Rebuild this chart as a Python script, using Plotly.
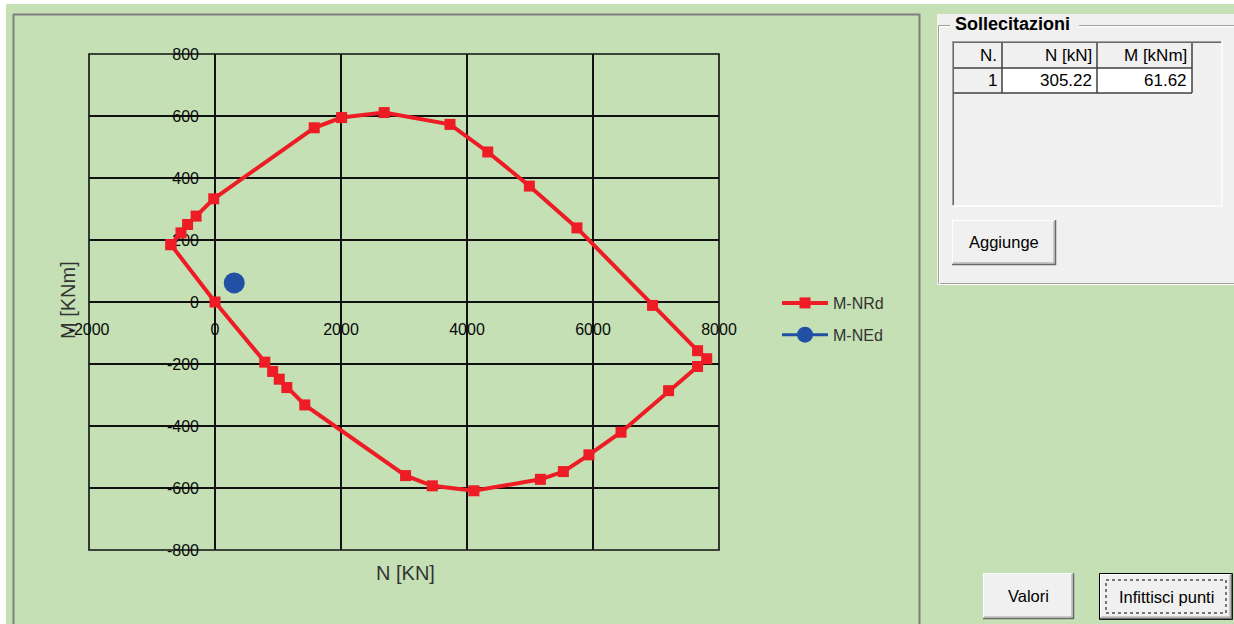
import plotly.graph_objects as go

# ---------------- data ----------------
N_Rd = [-700, -540, -435, -300, -20, 1575, 2010, 2685, 3730, 4330, 4990, 5745, 6945,
        7660, 7805, 7660, 7200, 6445, 5935, 5530, 5165, 4110, 3450, 3025, 1425, 1140,
        1020, 915, 790, 0, -700]
M_Rd = [185, 223, 250, 277, 333, 562, 595, 611, 573, 484, 374, 239, -11,
        -157, -183, -208, -286, -420, -493, -547, -572, -609, -593, -560, -332, -276,
        -249, -224, -194, 0, 185]
N_Ed = [305.22]
M_Ed = [61.62]
x_ticks = [-2000, 0, 2000, 4000, 6000, 8000]
y_ticks = [-800, -600, -400, -200, 0, 200, 400, 600, 800]

table_header = ["N.", "N [kN]", "M [kNm]"]
table_row = ["1", "305.22", "61.62"]

# ---------------- geometry helpers ----------------
W, H = 1234, 624
L, R, T, B = 89, 515, 54, 74
PW, PH = W - L - R, H - T - B


def fx(x):
    return (x - L) / PW


def fy(y):
    return (H - B - y) / PH


GREEN = "#C4E0B4"
PANEL = "#F0F0F0"
FONT = "Liberation Sans"

shapes = []
annotations = []


def rect(x0, y0, x1, y1, fill=None, line=None, lw=1, dash=None, layer="above"):
    ln = dict(width=lw if line else 0, color=line or "rgba(0,0,0,0)")
    if dash:
        ln["dash"] = dash
    shapes.append(dict(type="rect", xref="paper", yref="paper",
                       x0=fx(x0), x1=fx(x1), y0=fy(y0), y1=fy(y1),
                       fillcolor=fill or "rgba(0,0,0,0)", line=ln, layer=layer))


def hline(x0, x1, y, color, lw=1, layer="above", dash=None):
    ln = dict(color=color, width=lw)
    if dash:
        ln["dash"] = dash
    shapes.append(dict(type="line", xref="paper", yref="paper",
                       x0=fx(x0), x1=fx(x1), y0=fy(y), y1=fy(y), line=ln, layer=layer))


def vline(x, y0, y1, color, lw=1, layer="above", dash=None):
    ln = dict(color=color, width=lw)
    if dash:
        ln["dash"] = dash
    shapes.append(dict(type="line", xref="paper", yref="paper",
                       x0=fx(x), x1=fx(x), y0=fy(y0), y1=fy(y1), line=ln, layer=layer))


def text(x, y, s, size=17, anchor="center", color="#000", bold=False, angle=0):
    annotations.append(dict(xref="paper", yref="paper", x=fx(x), y=fy(y),
                            text=f"<b>{s}</b>" if bold else s, showarrow=False,
                            xanchor=anchor, yanchor="middle", textangle=angle,
                            font=dict(family=FONT, size=size, color=color)))


# white strips at top/left of the window capture
rect(0, 0, W, 4, fill="#FFFFFF", layer="below")
rect(0, 0, 6, H, fill="#FFFFFF", layer="below")
# chart frame
hline(13, 920, 14.5, "#7F7F7F", 2, layer="below")
vline(13.5, 14, H + 5, "#7F7F7F", 2, layer="below")
vline(919.5, 14, H + 5, "#7F7F7F", 2, layer="below")

# plot area border
shapes.append(dict(type="rect", xref="x domain", yref="y domain", x0=0, x1=1, y0=0, y1=1,
                   line=dict(color="#111111", width=1.6), layer="below"))

# ---------- right panel: group box "Sollecitazioni" ----------
rect(937, 14, W + 4, 285, fill=PANEL)
rect(938.5, 25.5, W + 4, 283.5, line="#A0A0A0", lw=1)
rect(939.5, 26.5, W + 5, 284.5, line="#FFFFFF", lw=1)
rect(950, 15, 1079, 34, fill=PANEL)
text(953, 24, "Sollecitazioni", size=18, anchor="left", bold=True)

# table
rect(952, 41, 1222, 206, fill=PANEL)
hline(952, 1222, 41.5, "#A0A0A0", 1)
vline(952.5, 41, 206, "#A0A0A0", 1)
hline(953, 1222, 42.5, "#696969", 1)
vline(953.5, 42, 206, "#696969", 1)
hline(952, 1222, 206, "#FFFFFF", 1.5)
vline(1222, 41, 206, "#FFFFFF", 1.5)
cols = [954, 1002, 1097, 1192]
# data row white cells
rect(1002, 68, 1192, 93, fill="#FFFFFF")
for cx in cols[1:]:
    vline(cx, 43, 93, "#404040", 1.5)
hline(954, 1192, 68, "#404040", 1.5)
hline(954, 1192, 93, "#404040", 1.5)
for i in range(3):
    text(cols[i + 1] - 3, 55, table_header[i], size=17, anchor="right")
    text(cols[i + 1] - 3, 80.5, table_row[i], size=17, anchor="right")


def button(x0, y0, x1, y1, label, default=False):
    rect(x0, y0, x1, y1, fill=PANEL)
    if default:
        rect(x0 + 0.5, y0 + 0.5, x1 - 0.5, y1 - 0.5, line="#000000", lw=1)
        x0, y0, x1, y1 = x0 + 1, y0 + 1, x1 - 1, y1 - 1
    hline(x0, x1, y0 + 0.5, "#FFFFFF", 1)
    vline(x0 + 0.5, y0, y1, "#FFFFFF", 1)
    hline(x0, x1, y1 - 0.5, "#696969", 1.5)
    vline(x1 - 0.5, y0, y1, "#696969", 1.5)
    hline(x0 + 1, x1 - 1, y1 - 2, "#A0A0A0", 1)
    vline(x1 - 2, y0 + 1, y1 - 1, "#A0A0A0", 1)
    if default:
        rect(x0 + 6, y0 + 6, x1 - 6, y1 - 6, line="#000000", lw=1, dash="dot")
    text((x0 + x1) / 2, (y0 + y1) / 2, label, size=16.5)


button(952, 220, 1056, 265, "Aggiunge")
button(983, 573, 1074, 619, "Valori")
button(1099, 573, 1233, 620, "Infittisci punti", default=True)

# axis titles
text(405, 573, "N [KN]", size=20, color="#333333")
text(68, 300, "M [KNm]", size=20, color="#333333", angle=-90)

# ---------------- traces ----------------
fig = go.Figure()
fig.add_trace(go.Scatter(x=N_Rd, y=M_Rd, mode="lines+markers", name="M-NRd",
                         legendgroup="a",
                         line=dict(color="#EE1C25", width=4),
                         marker=dict(symbol="square", size=11, color="#EE1C25")))
fig.add_trace(go.Scatter(x=N_Ed, y=M_Ed, mode="lines+markers", name="M-NEd",
                         legendgroup="b",
                         line=dict(color="#2150A4", width=3),
                         marker=dict(symbol="circle", size=21, color="#2150A4")))

fig.update_layout(
    width=W, height=H,
    margin=dict(l=L, r=R, t=T, b=B, pad=0),
    paper_bgcolor=GREEN, plot_bgcolor=GREEN,
    font=dict(family=FONT, color="#111111"),
    showlegend=True,
    legend=dict(x=fx(777), y=fy(286), xanchor="left", yanchor="top",
                bgcolor="rgba(0,0,0,0)", font=dict(size=16, color="#333333"),
                tracegroupgap=8, itemwidth=46),
    xaxis=dict(range=[-2000, 8000], tickvals=x_ticks, ticktext=[str(v) for v in x_ticks],
               anchor="free", position=0.5, showgrid=True, gridcolor="#111111",
               gridwidth=1.6, zeroline=False, showline=False, ticks="",
               ticklabelstandoff=16, tickfont=dict(size=16, color="#0A0A0A"),
               layer="below traces", fixedrange=True),
    yaxis=dict(range=[-800, 800], tickvals=y_ticks, ticktext=[str(v) for v in y_ticks],
               anchor="free", position=0.2, showgrid=True, gridcolor="#111111",
               gridwidth=1.6, zeroline=False, showline=False, ticks="",
               ticklabelstandoff=16, tickfont=dict(size=16, color="#0A0A0A"),
               layer="below traces", fixedrange=True),
    shapes=shapes,
    annotations=annotations,
)

fig.write_html("out.html", config={"displayModeBar": False},
               post_script="document.body.style.margin='0';document.body.style.overflow='hidden';")
